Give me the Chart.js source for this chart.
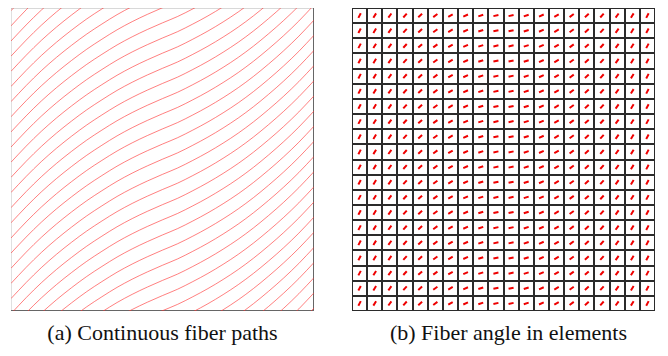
<!DOCTYPE html>
<html>
<head>
<meta charset="utf-8">
<script src="https://cdn.jsdelivr.net/npm/chart.js@4"></script>
<style>
  body { margin: 0; background: #fff; width: 668px; height: 356px; position: relative; overflow: hidden; }
  canvas { position: absolute; }
  .caption { position: absolute; top: 320px; font-family: "Liberation Serif", "DejaVu Serif", serif; font-size: 22px; color: #111; white-space: nowrap; text-align: center; }
</style>
</head>
<body>
<canvas id="paths"></canvas>
<canvas id="elements"></canvas>
<div class="caption" style="left:12px;width:301px">(a) Continuous fiber paths</div>
<div class="caption" style="left:358px;width:301px">(b) Fiber angle in elements</div>
<script>
// sample positions along the plate (x) and rise of one fiber path at those positions
const pathX = [0, 0.05, 0.1, 0.15, 0.2, 0.25, 0.3, 0.35, 0.4, 0.45, 0.5,
               0.55, 0.6, 0.65, 0.7, 0.75, 0.8, 0.85, 0.9, 0.95, 1];
const pathRise = [0, 0.053, 0.102, 0.146, 0.186, 0.223, 0.256, 0.287, 0.314, 0.338, 0.360,
                  0.381, 0.406, 0.433, 0.463, 0.496, 0.533, 0.574, 0.618, 0.666, 0.719];
// height where each fiber path crosses the left edge
const pathStarts = [-0.709, -0.659, -0.609, -0.559, -0.509, -0.459, -0.409, -0.359, -0.309,
                    -0.259, -0.209, -0.159, -0.109, -0.059, -0.009, 0.041, 0.091, 0.141,
                    0.191, 0.241, 0.291, 0.341, 0.391, 0.441, 0.491, 0.541, 0.591, 0.641,
                    0.691, 0.741, 0.791, 0.841, 0.891, 0.941, 0.991];

// fiber angle (deg) per element column, same for every row
const columnAngles = [62, 58, 54, 48, 42, 36, 30, 24, 18, 12, 12, 18, 24, 30, 36, 42, 48, 54, 58, 62];
const rowCount = 20;

function squareOptions(step, gridColor, gridWidth) {
    const axis = {
        min: 0, max: 1,
        ticks: { display: false, stepSize: step },
        grid: { color: gridColor, lineWidth: gridWidth, drawTicks: false },
        border: { display: false }
    };
    return {
        responsive: false,
        animation: false,
        events: [],
        layout: { padding: 0 },
        plugins: { legend: { display: false }, tooltip: { enabled: false } },
        scales: { x: { type: 'linear', ...axis }, y: { type: 'linear', ...axis } }
    };
}

function place(id, left, top, size) {
    const c = document.getElementById(id);
    c.width = size; c.height = size;
    c.style.left = left + 'px'; c.style.top = top + 'px';
    c.style.width = size + 'px'; c.style.height = size + 'px';
    return c;
}

// (a) continuous fiber paths
const pathSets = pathStarts.map(function (start) {
    return {
        data: pathX.map((x, i) => ({ x: x, y: start + pathRise[i] })),
        borderColor: 'rgba(255, 50, 50, 0.62)',
        borderWidth: 1,
        pointRadius: 0,
        tension: 0.4,
        cubicInterpolationMode: 'monotone'
    };
});
new Chart(place('paths', 11, 8, 303), {
    type: 'scatter',
    data: { datasets: pathSets },
    options: Object.assign(squareOptions(1, '#666', 1.2), {
        datasets: { scatter: { showLine: true } }
    })
});

// (b) fiber angle in each element
const segs = [];
const half = 0.0085;
for (let r = 0; r < rowCount; r++) {
    for (let c = 0; c < columnAngles.length; c++) {
        const a = columnAngles[c] * Math.PI / 180;
        const cx = (c + 0.5) / columnAngles.length;
        const cy = (r + 0.5) / rowCount;
        segs.push({ x: cx - half * Math.cos(a), y: cy - half * Math.sin(a) });
        segs.push({ x: cx + half * Math.cos(a), y: cy + half * Math.sin(a) });
        segs.push({ x: cx, y: null });
    }
}
new Chart(place('elements', 352, 8, 303), {
    type: 'scatter',
    data: {
        datasets: [{
            data: segs,
            borderColor: '#ee0000',
            borderWidth: 2,
            pointRadius: 0,
            showLine: true,
            spanGaps: false
        }]
    },
    options: squareOptions(0.05, '#2b2b2b', 2)
});
</script>
</body>
</html>
